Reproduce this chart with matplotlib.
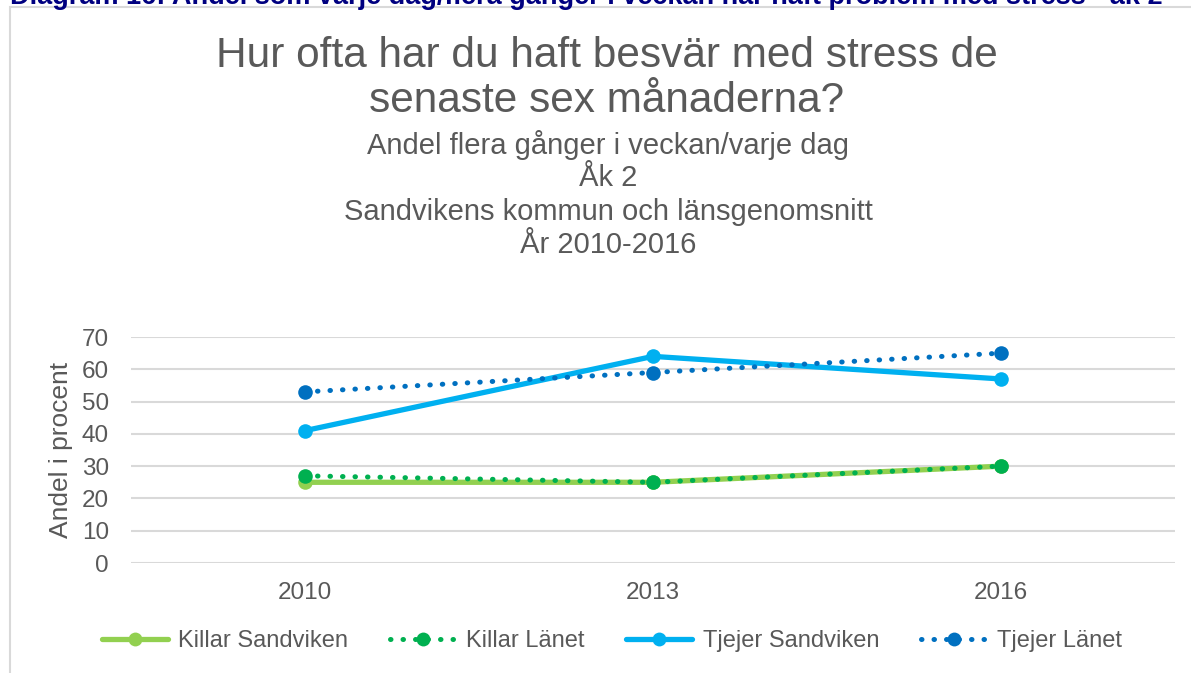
import matplotlib
matplotlib.use("Agg")
import matplotlib.pyplot as plt
from matplotlib.patches import Rectangle

plt.rcParams['font.family'] = ['Liberation Sans', 'DejaVu Sans']

years = ['2010', '2013', '2016']
killar_sandviken = [25, 25, 30]
killar_lanet = [27, 25, 30]
tjejer_sandviken = [41, 64, 57]
tjejer_lanet = [53, 59, 65]

series_names = ['Killar Sandviken', 'Killar Länet', 'Tjejer Sandviken', 'Tjejer Länet']
series_values = [killar_sandviken, killar_lanet, tjejer_sandviken, tjejer_lanet]
series_colors = ['#92D050', '#00B050', '#00B0F0', '#0070C0']
series_styles = ['solid', 'dotted', 'solid', 'dotted']

W, H = 1191, 673
fig = plt.figure(figsize=(W / 100, H / 100), dpi=100)
fig.patch.set_facecolor('white')

def fx(px):
    return px / W

def fy(py):
    return 1 - py / H

# chart border
border = Rectangle((fx(10), fy(700)), fx(1300), fy(7) - fy(700),
                   transform=fig.transFigure, fill=False,
                   edgecolor='#D9D9D9', linewidth=1.5)
fig.patches.append(border)

# header text (partly clipped at the top edge, as in the reference)
fig.text(fx(10), fy(4), 'Diagram 16: Andel som varje dag/flera gånger i veckan har haft problem med stress - åk 2',
         color='#000080', fontsize=19.5, fontweight='bold', va='baseline', ha='left')

ax = fig.add_axes([fx(131), fy(563), fx(1175) - fx(131), fy(337) - fy(563)])
x = [0.5, 1.5, 2.5]
for name, vals, col, ls in zip(series_names, series_values, series_colors, series_styles):
    if ls == 'solid':
        ax.plot(x, vals, color=col, lw=3.8, solid_capstyle='round', marker='o',
                markersize=10.5, markeredgewidth=0, label=name, zorder=3)
    else:
        ax.plot(x, vals, color=col, lw=3.6, linestyle=(0, (0.1, 2.4)), dash_capstyle='round',
                marker='o', markersize=10.5, markeredgewidth=0, label=name, zorder=4)

ax.set_xlim(0, 3)
ax.set_ylim(0, 70)
ax.set_yticks(range(0, 71, 10))
ax.set_xticks(x)
ax.set_xticklabels(years)
ax.grid(axis='y', color='#D9D9D9', lw=1.5)
ax.set_axisbelow(True)
for s in ax.spines.values():
    s.set_visible(False)
ax.tick_params(axis='both', length=0, labelsize=17.5, colors='#595959')
ax.tick_params(axis='y', pad=16)
ax.tick_params(axis='x', pad=14)
ax.set_ylabel('Andel i procent', fontsize=19, color='#595959', labelpad=6)

# titles
fig.text(fx(607), fy(56), 'Hur ofta har du haft besvär med stress de', ha='center', va='center',
         fontsize=30.5, color='#595959')
fig.text(fx(607), fy(101), 'senaste sex månaderna?', ha='center', va='center',
         fontsize=30.5, color='#595959')
subs = ['Andel flera gånger i veckan/varje dag', 'Åk 2', 'Sandvikens kommun och länsgenomsnitt', 'År 2010-2016']
for i, s in enumerate(subs):
    fig.text(fx(608), fy(145 + i * 33.3), s, ha='center', va='center', fontsize=21, color='#595959')

leg = fig.legend(*ax.get_legend_handles_labels(), loc='center', bbox_to_anchor=(fx(612), fy(641)),
                 ncol=4, frameon=False, fontsize=17, labelcolor='#595959',
                 handlelength=2.8, handletextpad=0.45, columnspacing=1.75, markerscale=0.95)

fig.savefig('out.png', dpi=100)
